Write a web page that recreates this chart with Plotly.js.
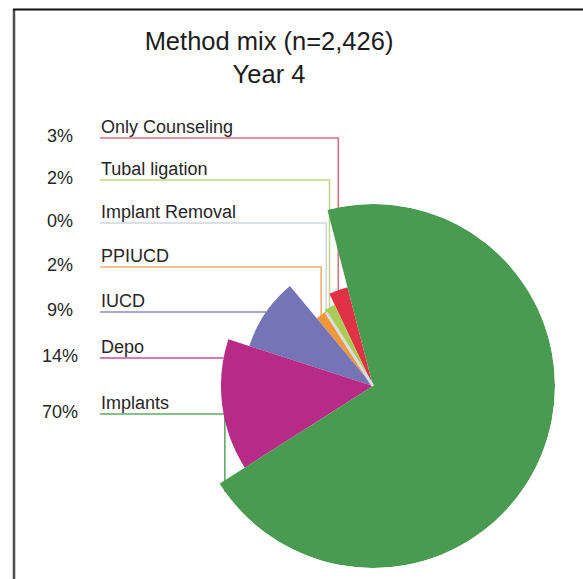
<!DOCTYPE html>
<html>
<head>
<meta charset="utf-8">
<script src="https://cdn.plot.ly/plotly-3.0.1.min.js"></script>
<style>
  html, body { margin: 0; padding: 0; background: #ffffff; }
  #chart { width: 583px; height: 579px; }
</style>
</head>
<body>
<div id="chart"></div>
<script>
// Method mix in year 4 (n = 2,426): share of clients by method, in percent.
// Slices run counter-clockwise in this order.
const methods = ['Only Counseling', 'Tubal ligation', 'Implant Removal', 'PPIUCD', 'IUCD', 'Depo', 'Implants'];
const shares = [3, 2, 0, 2, 9, 14, 70];
const shareLabels = ['3%', '2%', '0%', '2%', '9%', '14%', '70%'];

// ---- styling ----
const sliceColors  = ['#e03244', '#a8cc54', '#d9dde0', '#f2963a', '#7574b6', '#b72a85', '#499b52'];
const leaderColors = ['#d8737d', '#c2d78c', '#cfd6de', '#f1b070', '#8d8cc6', '#c4509a', '#62ab68'];
const sliceRadius  = [102, 90, 87, 88, 130, 152, 182];       // outer radius of each slice, px
const labelRowY    = [138, 180, 223, 267, 312, 358, 414];    // leader line level of each label row, px

const W = 583, H = 579;
const CX = 373, CY = 386, RMAX = 182;   // pie centre and largest radius, px
const START = 104.5;                    // leading edge of the first slice, degrees ccw from east
const LABEL_X = 100, PCT_X = 60;
const FONT = 'Liberation Sans, Arial, Helvetica, sans-serif';

// angular extent of every slice, from its share of the total
const total = shares.reduce((a, b) => a + b, 0);
const sweep = shares.map(v => v / total * 360);
const startAng = [];
let acc = START;
sweep.forEach(s => { startAng.push(acc); acc += s; });
const midAng = sweep.map((s, i) => startAng[i] + s / 2);

const rad = d => d * Math.PI / 180;
const toPx = (r, a) => [CX + r * Math.cos(rad(a)), CY - r * Math.sin(rad(a))];

// pie slices as polar bars
const slices = {
  type: 'barpolar',
  theta: midAng,
  width: sweep,
  r: sliceRadius,
  marker: { color: sliceColors, line: { width: 0 } },
  hoverinfo: 'skip',
  showlegend: false,
  subplot: 'polar'
};

// a category with no share is shown as a hairline at its position
const zeroTraces = [];
shares.forEach((v, i) => {
  if (v === 0) {
    zeroTraces.push({
      type: 'scatterpolar', mode: 'lines', subplot: 'polar',
      r: [0, sliceRadius[i]], theta: [startAng[i], startAng[i]],
      line: { color: sliceColors[i], width: 3 },
      hoverinfo: 'skip', showlegend: false
    });
  }
});

// leader lines: horizontal from the label, then down/up to the slice edge
const leaders = methods.map((m, i) => {
  const r = sliceRadius[i];
  const y = labelRowY[i];
  const dy = (CY - y) / r;
  let a;
  if (Math.abs(dy) <= 1) {
    const phi = 180 - Math.asin(dy) * 180 / Math.PI;
    const lo = startAng[i] + Math.min(3, sweep[i] / 2);
    const hi = startAng[i] + sweep[i] - Math.min(3, sweep[i] / 2);
    a = Math.min(Math.max(phi, lo), hi);
  } else {
    a = midAng[i];
  }
  const [ex, ey] = toPx(r, a);
  return {
    type: 'scatter', mode: 'lines', xaxis: 'x', yaxis: 'y',
    x: [LABEL_X, ex, ex], y: [y, y, ey],
    line: { color: leaderColors[i], width: 1.6 },
    hoverinfo: 'skip', showlegend: false, cliponaxis: false
  };
});

const annotations = [];
methods.forEach((m, i) => {
  annotations.push({
    xref: 'x', yref: 'y', x: LABEL_X - 1, y: labelRowY[i] + 1,
    xanchor: 'left', yanchor: 'bottom', showarrow: false,
    text: m, font: { family: FONT, size: 18, color: '#262626' }
  });
  annotations.push({
    xref: 'x', yref: 'y', x: PCT_X, y: labelRowY[i] - 2,
    xanchor: 'center', yanchor: 'middle', showarrow: false,
    text: shareLabels[i], font: { family: FONT, size: 18, color: '#262626' }
  });
});

const layout = {
  width: W, height: H,
  margin: { l: 0, r: 0, t: 0, b: 0 },
  paper_bgcolor: '#ffffff', plot_bgcolor: 'rgba(0,0,0,0)',
  showlegend: false,
  title: {
    text: 'Method mix (n=2,426)<br>Year 4',
    font: { family: FONT, size: 25.5, color: '#1c1c1c' },
    x: 269 / W, xanchor: 'center',
    y: 1 - 50 / H, yanchor: 'top'
  },
  xaxis: { range: [0, W], visible: false, fixedrange: true, domain: [0, 1] },
  yaxis: { range: [H, 0], visible: false, fixedrange: true, domain: [0, 1] },
  polar: {
    domain: { x: [(CX - RMAX) / W, (CX + RMAX) / W], y: [(H - CY - RMAX) / H, (H - CY + RMAX) / H] },
    bgcolor: 'rgba(0,0,0,0)',
    bargap: 0,
    radialaxis: { visible: false, range: [0, RMAX] },
    angularaxis: { visible: false, rotation: 0, direction: 'counterclockwise' }
  },
  shapes: [
    { type: 'line', xref: 'x', yref: 'y', x0: 14, x1: 14, y0: 9, y1: H, line: { color: '#4d4d4d', width: 2.5 } },
    { type: 'line', xref: 'x', yref: 'y', x0: 13, x1: W, y0: 9.5, y1: 9.5, line: { color: '#111111', width: 2 } }
  ],
  annotations: annotations
};

Plotly.newPlot('chart', [slices, ...zeroTraces, ...leaders], layout, { displayModeBar: false, staticPlot: true });
</script>
</body>
</html>
